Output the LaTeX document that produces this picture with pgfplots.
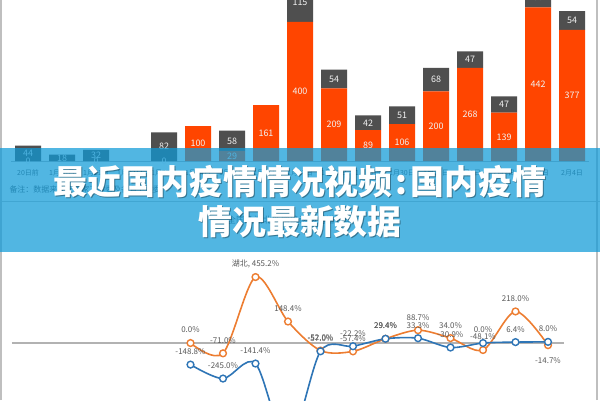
\documentclass[border=0pt]{standalone}
\usepackage{pgfplots}
\pgfplotsset{compat=1.18}
\usepackage{fontspec}
\setmainfont{Noto Sans CJK SC}
\definecolor{barorange}{HTML}{FF4500}
\definecolor{bargray}{HTML}{4F4F4F}
\definecolor{lineorange}{HTML}{ED7D31}
\definecolor{lineblue}{HTML}{2E75B6}
\definecolor{txtgray}{HTML}{595959}
\definecolor{banner}{RGB}{14,154,216}
\begin{document}
\begin{tikzpicture}[x=1bp,y=1bp]
\useasboundingbox (0,0) rectangle (600,400);
\clip (0,0) rectangle (600,400);
\fill[white] (0,0) rectangle (600,400);
% ---------- top stacked bar chart ----------
\begin{axis}[at={(11bp,239bp)}, anchor=south west, scale only axis,
  width=578bp, height=161bp, xmin=-0.5, xmax=16.5, ymin=0, ymax=463,
  clip=false, axis x line*=bottom, axis y line=none,
  x axis line style={-, draw=gray!55, line width=1bp},
  xtick={0,...,16},
  xticklabels={20日前,1月20日,1月21日,1月22日,1月23日,1月24日,1月25日,1月26日,1月27日,1月28日,1月29日,1月30日,1月31日,2月1日,2月2日,2月3日,2月4日},
  xtick style={draw=none},
  xticklabel style={font=\fontsize{7}{8}\selectfont, text=txtgray, anchor=center, yshift=-12bp},
  ybar stacked, bar width=26bp]
\addplot[fill=barorange, draw=none] coordinates {
 (0,0) (1,0) (2,0) (4,0) (5,100) (6,29) (7,161) (8,400) (9,209) (10,89)
 (11,106) (12,200) (13,268) (14,139) (15,442) (16,377)};
\addplot[fill=bargray, draw=none] coordinates {
 (0,44) (1,18) (2,32) (4,82) (5,0) (6,58) (7,0) (8,115) (9,54) (10,42)
 (11,51) (12,68) (13,47) (14,47) (15,58) (16,54)};
\end{axis}
% labels of the bar segments
\begin{axis}[at={(11bp,239bp)}, anchor=south west, scale only axis,
  width=578bp, height=161bp, xmin=-0.5, xmax=16.5, ymin=0, ymax=463,
  clip=false, hide axis]
\addplot[draw=none, mark=none,
  nodes near coords, point meta=explicit symbolic,
  every node near coord/.style={anchor=center, font=\fontsize{9}{10}\selectfont, text=white!95!black}]
 coordinates {
 (0,0)[0] (2,0)[0] (4,0)[0]
 (5,50)[100] (6,14.5)[29] (7,80.5)[161] (8,200)[400] (9,104.5)[209] (10,44.5)[89]
 (11,53)[106] (12,100)[200] (13,134)[268] (14,69.5)[139] (15,221)[442] (16,188.5)[377]
 (0,22)[44] (1,9)[18] (2,16)[32] (4,41)[82] (6,58)[58] (8,457.5)[115] (9,236)[54]
 (10,110)[42] (11,131.5)[51] (12,234)[68] (13,291.5)[47] (14,162.5)[47] (15,471)[58] (16,404)[54]};
\end{axis}
% footnote and separator under the banner
\node[anchor=west, font=\fontsize{8}{9}\selectfont, text=txtgray] at (6,211) {备注：数据来源于国家卫健委及各省卫健委};
\draw[gray!45, line width=1bp] (0,199) -- (600,199);
\node[font=\fontsize{9}{10}\selectfont, text=txtgray] at (290,180) {全国及湖北新增确诊病例增长率};
% ---------- bottom line chart ----------
\begin{axis}[at={(11.75bp,0bp)}, anchor=south west, scale only axis,
  width=552.5bp, height=148bp, xmin=-0.5, xmax=16.5, ymin=-393, ymax=628,
  hide axis, clip=true]
\addplot[gray!60, line width=1.2bp] coordinates {(-0.5,0) (16.5,0)};
\addplot[lineorange, line width=1.6bp, smooth, mark=*, mark size=3.4bp,
  mark options={fill=white, draw=lineorange, line width=1.4bp},
  nodes near coords, point meta=explicit symbolic,
  every node near coord/.style={anchor=center, yshift=13bp, font=\fontsize{8}{9}\selectfont, text=txtgray}]
 coordinates {
 (5,0)[0.0\%] (6,-71)[-71.0\%] (7,455.2)[湖北, 455.2\%] (8,148.4)[148.4\%]
 (9,-52)[-52.0\%] (10,-57.4)[-57.4\%] (11,29.4)[29.4\%] (12,88.7)[88.7\%]
 (13,34)[34.0\%] (14,-48.1)[-48.1\%] (15,218)[218.0\%] (16,-14.7)[{}]};
\addplot[draw=none, mark=none,
  nodes near coords, point meta=explicit symbolic,
  every node near coord/.style={anchor=center, yshift=-15bp, font=\fontsize{8}{9}\selectfont, text=txtgray}]
 coordinates {(16,-14.7)[-14.7\%]};
\addplot[lineblue, line width=1.6bp, smooth, mark=*, mark size=3.4bp,
  mark options={fill=white, draw=lineblue, line width=1.4bp},
  nodes near coords, point meta=explicit symbolic,
  every node near coord/.style={anchor=center, yshift=13bp, font=\fontsize{8}{9}\selectfont, text=txtgray}]
 coordinates {
 (5,-148.8)[-148.8\%] (6,-245)[-245.0\%] (7,-141.4)[-141.4\%] (8,-700)[{}]
 (9,-57)[-57.0\%] (10,-22.2)[-22.2\%] (11,29.4)[29.4\%] (12,33.3)[33.3\%]
 (13,-30.9)[-30.9\%] (14,0)[0.0\%] (15,6.4)[6.4\%] (16,8)[8.0\%]};
\end{axis}
% borders
\draw[gray!50, line width=1.5bp] (1,0) -- (1,400);
\draw[gray!50, line width=1.5bp] (597,0) -- (597,400);
% ---------- banner ----------
\fill[banner, opacity=0.72] (0,148) rectangle (600,252);
\begin{scope}[font=\bfseries\fontsize{34}{34}\selectfont]
\node[text=black, opacity=0.35] at (301,217) {最近国内疫情情况视频\hspace{3bp}:\hspace{3bp}国内疫情};
\node[text=white] at (300,218) {最近国内疫情情况视频\hspace{3bp}:\hspace{3bp}国内疫情};
\node[text=black, opacity=0.35] at (301,177) {情况最新数据};
\node[text=white] at (300,178) {情况最新数据};
\end{scope}
\end{tikzpicture}
\end{document}
